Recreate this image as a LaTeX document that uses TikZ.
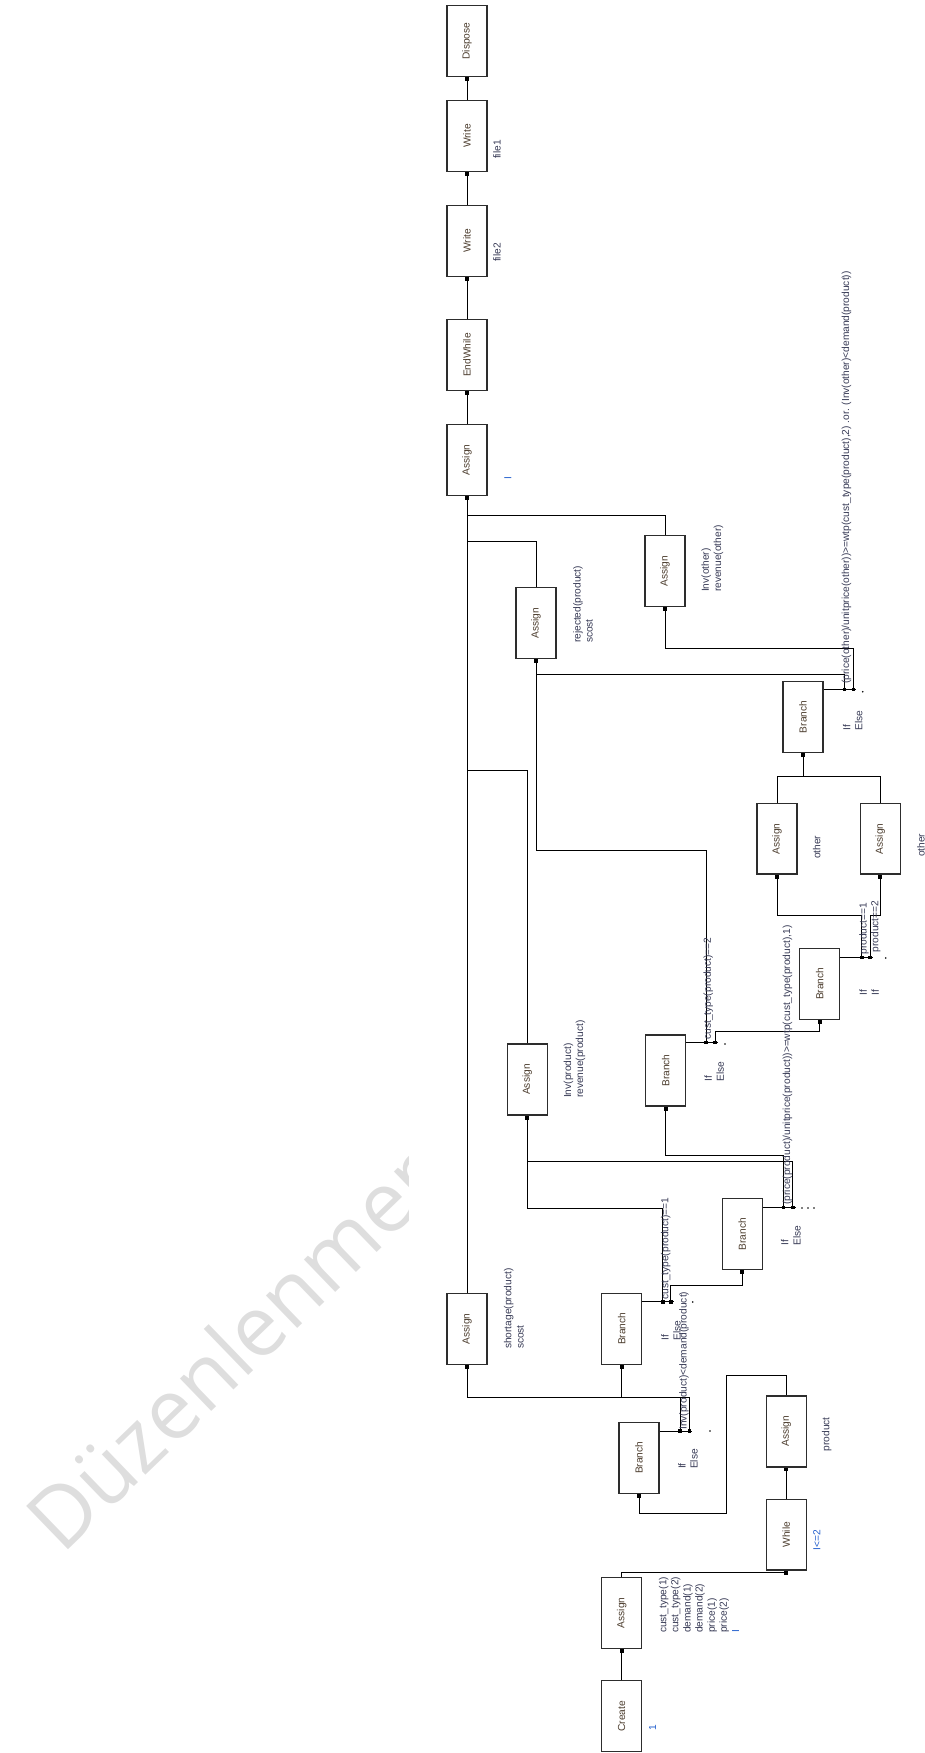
\documentclass[tikz,border=0pt]{standalone}
\usepackage{fontspec}
\setmainfont{Liberation Sans}
\newfontfamily\wmfont{Open Sans}
\usetikzlibrary{arrows.meta,positioning}
\definecolor{boxline}{RGB}{45,45,45}
\definecolor{modtext}{RGB}{75,60,45}
\definecolor{lbltext}{RGB}{55,58,85}
\definecolor{varblue}{RGB}{35,95,205}
\definecolor{wmgray}{RGB}{222,222,222}
\newcommand{\uptext}[1]{\rotatebox{90}{#1}}

\begin{document}
\begin{tikzpicture}[x=0.02cm,y=-0.02cm,
  font=\fontsize{5.8}{6.9}\selectfont,
  mod/.style={rectangle,draw=boxline,line width=0.8pt,minimum width=0.8cm,
    minimum height=1.42cm,inner sep=0pt,text=modtext},
  cn/.style={-{Square[length=2.2pt,width=2.2pt]},line width=0.55pt},
  ln/.style={line width=0.55pt},
  lbl/.style={rotate=90,anchor=west,align=left,inner sep=0pt,text=lbltext},
  cond/.style={rotate=90,anchor=west,inner sep=0pt,text=lbltext},
  var/.style={lbl,text=varblue},
  wm/.style={anchor=base west,inner sep=0pt,rotate=44,
    font=\wmfont\fontsize{48}{54}\selectfont,text=wmgray},
]
  \useasboundingbox (0,0) rectangle (925,1753);
  \begin{scope}
    \clip (0,0) rectangle (408,1753);
    \node[wm] (wmark) at (62,1556) {Düzenlenmemiş};
  \end{scope}

  \node[mod] (assignI) at (467,459.8) {\uptext{Assign}};
  \node[mod,above=0.646cm of assignI] (endwhile) {\uptext{EndWhile}};
  \node[mod,above=0.84cm of endwhile] (writeB) {\uptext{Write}};
  \node[mod,above=0.646cm of writeB] (writeA) {\uptext{Write}};
  \node[mod,above=0.452cm of writeA] (dispose) {\uptext{Dispose}};
  \node[mod] (assignInvO) at (665,571.2) {\uptext{Assign}};
  \node[mod] (assignRej) at (536,623.2) {\uptext{Assign}};
  \node[mod] (branchF) at (803,717) {\uptext{Branch}};
  \node[mod] (assignO1) at (777,838.7) {\uptext{Assign}};
  \node[mod] (assignO2) at (880.3,838.7) {\uptext{Assign}};
  \node[mod] (branchE) at (819.7,983.8) {\uptext{Branch}};
  \node[mod] (branchD) at (665.7,1070.5) {\uptext{Branch}};
  \node[mod] (assignInvP) at (527.3,1079.5) {\uptext{Assign}};
  \node[mod] (branchC) at (742.3,1234.2) {\uptext{Branch}};
  \node[mod] (branchB) at (621.7,1328.8) {\uptext{Branch}};
  \node[mod] (assignShort) at (467,1328.8) {\uptext{Assign}};
  \node[mod] (branchA) at (639,1457.7) {\uptext{Branch}};
  \node[mod] (assignProd) at (786.3,1431.3) {\uptext{Assign}};
  \node[mod,below=0.62cm of assignProd] (while) {\uptext{While}};
  \node[mod] (assignInit) at (621.7,1612.8) {\uptext{Assign}};
  \node[mod,below=0.62cm of assignInit] (create) {\uptext{Create}};

  \coordinate (aIf) at (680,1431);
  \coordinate (aElse) at (689.3,1431);
  \coordinate (bIf) at (662.7,1301.7);
  \coordinate (bElse) at (670.7,1301.7);
  \coordinate (cIf) at (783.3,1207.3);
  \coordinate (cElse) at (792.7,1207.3);
  \coordinate (dIf) at (706,1042.3);
  \coordinate (dElse) at (715,1042.3);
  \coordinate (eOne) at (861.7,957.3);
  \coordinate (eTwo) at (870,957.3);
  \coordinate (fIf) at (844.3,689.3);
  \coordinate (fElse) at (853.3,689.3);

  \draw[ln] (branchA.east |- aIf) -- (aElse) -- ++(3,0);
  \draw[ln] (branchB.east |- bIf) -- (bElse) -- ++(3,0);
  \draw[ln] (branchC.east |- cIf) -- (cElse) -- ++(3,0);
  \draw[ln] (branchD.east |- dIf) -- (dElse) -- ++(3,0);
  \draw[ln] (branchE.east |- eOne) -- (eTwo) -- ++(3,0);
  \draw[ln] (branchF.east |- fIf) -- (fElse) -- ++(3,0);
  \foreach \p in {aIf,aElse,bIf,bElse,cIf,cElse,dIf,dElse,eOne,eTwo,fIf,fElse}
    \fill (\p) ++(-1.8,-1.8) rectangle ++(3.6,3.6);
  \foreach \p in {(710,1431),(692.7,1302),(725,1044),(885.7,958),(862.7,691.7),
    (802,1208),(808,1208),(814,1208)}
    \fill \p circle (0.9);

  \draw[cn] (create) -- (assignInit);
  \draw[cn] (assignInit.north) -- ++(0,-4.3) -| (while.south);
  \draw[cn] (while) -- (assignProd);
  \draw[cn] (assignProd.north) -- ++(0,-20) -| (726.7,1513.3) -| (branchA.south);
  \draw[cn] (aIf) -- ++(0,-33.7) -| (assignShort.south);
  \draw[cn] (aElse) -- ++(0,-33.7) -| (branchB.south);
  \draw[cn] (bIf) -- ++(0,-93.4) -| (assignInvP.south);
  \draw[cn] (bElse) -- ++(0,-16) -| (branchC.south);
  \draw[cn] (cIf) -- ++(0,-52.3) -| (branchD.south);
  \draw[cn] (cElse) -- ++(0,-45.6) -| (assignInvP.south);
  \draw[cn] (dIf) -- ++(0,-192.3) -| (assignRej.south);
  \draw[cn] (dElse) -- ++(0,-10.6) -| (branchE.south);
  \draw[cn] (eOne) -- ++(0,-42.3) -| (assignO1.south);
  \draw[cn] (eTwo) -- ++(0,-41.6) -| (assignO2.south);
  \draw[cn] (assignO1.north) -- ++(0,-25.6) -| (branchF.south);
  \draw[cn] (assignO2.north) -- ++(0,-25.6) -| (branchF.south);
  \draw[cn] (fIf) -- ++(0,-15.3) -| (assignRej.south);
  \draw[cn] (fElse) -- ++(0,-41) -| (assignInvO.south);
  \draw[cn] (assignInvO.north) -- ++(0,-20) -| (assignI.south);
  \draw[cn] (assignRej.north) -- ++(0,-46) -| (assignI.south);
  \draw[cn] (assignInvP.north) -- ++(0,-273.3) -| (assignI.south);
  \draw[cn] (assignShort) -- (assignI);
  \draw[cn] (assignI) -- (endwhile);
  \draw[cn] (endwhile) -- (writeB);
  \draw[cn] (writeB) -- (writeA);
  \draw[cn] (writeA) -- (dispose);

  \node[lbl] (lFile1) at (497,159.3) {file1};
  \node[lbl] (lFile2) at (497,262.3) {file2};
  \node[var] (lI) at (507.8,479.5) {I};
  \node[lbl] (lInvO) at (712.3,592.3) {Inv(other)\\revenue(other)};
  \node[lbl] (lRej) at (583,643.3) {rejected(product)\\scost};
  \node[lbl] (lF) at (852.7,730.7) {If\\Else};
  \node[lbl] (lO1) at (816.7,859.3) {other};
  \node[lbl] (lO2) at (921,857.3) {other};
  \node[lbl] (lE) at (869.2,996) {If\\If};
  \node[lbl] (lD) at (714.2,1081.7) {If\\Else};
  \node[lbl] (lInvP) at (574.5,1098.3) {Inv(product)\\revenue(product)};
  \node[lbl] (lC) at (790.8,1246) {If\\Else};
  \node[lbl] (lB) at (671,1341) {If\\Else};
  \node[lbl] (lShort) at (513.8,1349.3) {shortage(product)\\scost};
  \node[lbl] (lA) at (688,1469.3) {If\\Else};
  \node[lbl] (lProd) at (826.7,1451.7) {product};
  \node[var] (lWhile) at (816.7,1550.7) {I<=2};
  \node[lbl] (lInit) at (699,1633.3) {cust\_type(1)\\cust\_type(2)\\demand(1)\\demand(2)\\price(1)\\price(2)\\\textcolor{varblue}{I}};
  \node[var] (lCreate) at (652.7,1731) {1};

  \node[cond] (cA) at (684,1430) {Inv(product)<demand(product)};
  \node[cond] (cB) at (665.8,1300) {cust\_type(product)==1};
  \node[cond] (cC) at (787.5,1205) {(price(product)/unitprice(product))>=wtp(cust\_type(product),1)};
  \node[cond] (cD) at (708.3,1040) {cust\_type(product)==2};
  \node[cond] (cE1) at (864,955) {product==1};
  \node[cond] (cE2) at (875.8,952.7) {product==2};
  \node[cond] (cF) at (846.5,684) {(price(other)/unitprice(other))>=wtp(cust\_type(product),2) .or. (Inv(other)<demand(product))};
\end{tikzpicture}
\end{document}
